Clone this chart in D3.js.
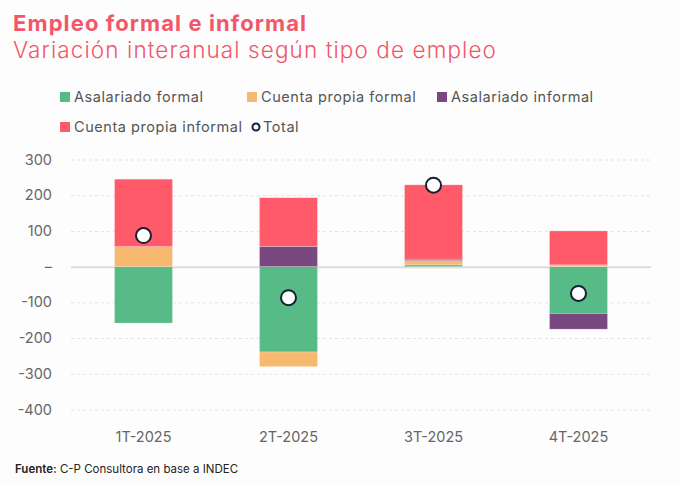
<!DOCTYPE html>
<html>
<head>
<meta charset="utf-8">
<script src="https://cdn.jsdelivr.net/npm/d3@7"></script>
<style>
    body { margin: 0; background: #fdfdfd; }
    svg { font-family: Inter, "Noto Sans", sans-serif; }
</style>
</head>
<body>
<svg id="chart" width="680" height="485"></svg>
<script>
'use strict';

const quarters = ['1T-2025', '2T-2025', '3T-2025', '4T-2025'];
const seriesNames = ['Asalariado formal', 'Cuenta propia formal', 'Asalariado informal', 'Cuenta propia informal'];
const seriesColors = ['#57bb88', '#f6b96f', '#79487f', '#fe5a6a'];

// thousands of jobs, year-on-year
const asalariadoFormal = [-158, -239, 5, -131];
const cuentaPropiaFormal = [56, -41, 12, 5];
const asalariadoInformal = [0, 57, 4, -44];
const cuentaPropiaInformal = [189, 136, 208, 95];
const total = [87, -87, 228, -75];

const yTicks = [300, 200, 100, 0, -100, -200, -300, -400];

const svg = d3.select('#chart');

const rows = quarters.map((q, i) => ({
    quarter: q,
    'Asalariado formal': asalariadoFormal[i],
    'Cuenta propia formal': cuentaPropiaFormal[i],
    'Asalariado informal': asalariadoInformal[i],
    'Cuenta propia informal': cuentaPropiaInformal[i],
    total: total[i]
}));

const x = d3.scaleBand()
    .domain(quarters)
    .range([71, 651])
    .paddingInner(0.6)
    .paddingOuter(0.3);

const y = d3.scaleLinear()
    .domain([-400, 300])
    .range([409.5, 159.5]);

const color = d3.scaleOrdinal()
    .domain(seriesNames)
    .range(seriesColors);

// titles
svg.append('text')
    .attr('x', 13)
    .attr('y', 31)
    .attr('fill', '#f2566a')
    .attr('font-size', 22)
    .attr('font-weight', 700)
    .attr('letter-spacing', 1.1)
    .text('Empleo formal e informal');

svg.append('text')
    .attr('x', 13)
    .attr('y', 58)
    .attr('fill', '#f2566a')
    .attr('font-size', 22.5)
    .attr('font-weight', 300)
    .attr('letter-spacing', 1.1)
    .text('Variación interanual según tipo de empleo');

// legend
const legendItems = [
    {name: seriesNames[0], x: 60, y: 97},
    {name: seriesNames[1], x: 247, y: 97},
    {name: seriesNames[2], x: 437, y: 97},
    {name: seriesNames[3], x: 60, y: 127},
    {name: 'Total', x: 252, y: 127}
];

const legend = svg.append('g')
    .selectAll('g')
    .data(legendItems)
    .join('g')
    .attr('transform', (d) => `translate(${d.x},${d.y})`);

legend.filter((d) => d.name !== 'Total')
    .append('rect')
    .attr('x', 0)
    .attr('y', -5)
    .attr('width', 10)
    .attr('height', 10)
    .attr('fill', (d) => color(d.name));

legend.filter((d) => d.name === 'Total')
    .append('circle')
    .attr('cx', 4)
    .attr('cy', 0)
    .attr('r', 3.5)
    .attr('fill', '#fff')
    .attr('stroke', '#16202e')
    .attr('stroke-width', 2);

legend.append('text')
    .attr('x', (d) => d.name === 'Total' ? 11 : 14)
    .attr('dy', '0.35em')
    .attr('font-size', 14.5)
    .attr('letter-spacing', 0.55)
    .attr('fill', '#555')
    .text((d) => d.name);

// grid + y axis
const yAxis = svg.append('g')
    .attr('transform', 'translate(71,0)')
    .call(d3.axisLeft(y)
        .tickValues(yTicks)
        .tickSize(-580)
        .tickPadding(19)
        .tickFormat((d) => d === 0 ? '–' : d));

yAxis.select('.domain').remove();

yAxis.selectAll('.tick line')
    .attr('stroke', (d) => d === 0 ? '#dcdcdc' : '#e2e2e2')
    .attr('stroke-width', (d) => d === 0 ? 2 : 1)
    .attr('stroke-dasharray', (d) => d === 0 ? null : '3,3');

yAxis.selectAll('.tick text')
    .attr('font-size', 14.5)
    .attr('font-family', 'Inter, sans-serif')
    .attr('fill', '#666');

// x axis labels
const xAxis = svg.append('g')
    .attr('transform', 'translate(0,420)')
    .call(d3.axisBottom(x).tickSize(0).tickPadding(12));

xAxis.select('.domain').remove();

xAxis.selectAll('.tick text')
    .attr('font-size', 14.5)
    .attr('font-family', 'Inter, sans-serif')
    .attr('fill', '#666');

// stacked bars
const stack = d3.stack()
    .keys(seriesNames)
    .offset(d3.stackOffsetDiverging);

const layers = stack(rows);

svg.append('g')
    .selectAll('g')
    .data(layers)
    .join('g')
    .attr('fill', (layer) => color(layer.key))
    .selectAll('rect')
    .data((layer) => layer)
    .join('rect')
    .attr('x', (d) => x(d.data.quarter))
    .attr('width', x.bandwidth())
    .attr('y', (d) => y(d[1]))
    .attr('height', (d) => Math.abs(y(d[0]) - y(d[1])))
    .attr('stroke', 'rgba(255,255,255,0.5)')
    .attr('stroke-width', 0.5);

// total markers
svg.append('g')
    .selectAll('circle')
    .data(rows)
    .join('circle')
    .attr('cx', (d) => x(d.quarter) + x.bandwidth() / 2)
    .attr('cy', (d) => y(d.total))
    .attr('r', 7.5)
    .attr('fill', '#fff')
    .attr('stroke', '#16202e')
    .attr('stroke-width', 2);

// source
const source = svg.append('text')
    .attr('x', 15)
    .attr('y', 473)
    .attr('font-size', 11.5)
    .attr('fill', '#222');

source.append('tspan')
    .attr('font-weight', 600)
    .text('Fuente:');

source.append('tspan')
    .text(' C-P Consultora en base a INDEC');
</script>
</body>
</html>
